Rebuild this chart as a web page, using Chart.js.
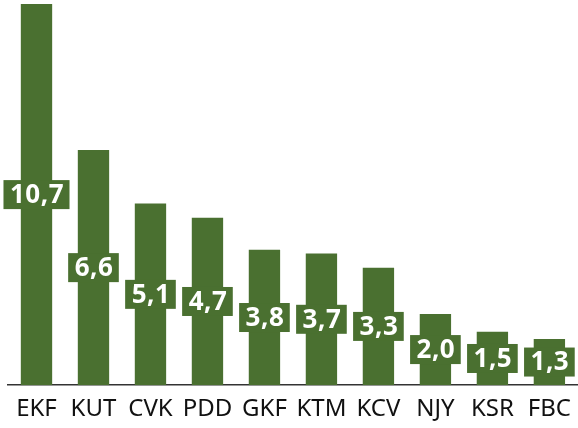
<!DOCTYPE html>
<html lang="en">
<head>
<meta charset="UTF-8">
<title>Bar chart</title>
<script src="https://cdn.jsdelivr.net/npm/chart.js"></script>
<style>
    html, body {
        margin: 0;
        padding: 0;
        background: #ffffff;
        overflow: hidden;
    }
    .wrap {
        width: 578px;
        height: 428px;
        overflow: hidden;
    }
</style>
</head>
<body>
<div class="wrap"><canvas id="chart" width="581" height="438"></canvas></div>
<script>
    // data
    const categories = ['EKF', 'KUT', 'CVK', 'PDD', 'GKF', 'KTM', 'KCV', 'NJY', 'KSR', 'FBC'];
    const values = [10.7, 6.6, 5.1, 4.7, 3.8, 3.7, 3.3, 2.0, 1.5, 1.3];

    const barColor = '#4a7030';

    // labels in a green box, centred on each bar
    const boxLabels = {
        id: 'boxLabels',
        afterDatasetsDraw(chart) {
            const ctx = chart.ctx;
            const meta = chart.getDatasetMeta(0);
            ctx.save();
            ctx.font = 'bold 26px "Noto Sans"';
            ctx.letterSpacing = '0.5px';
            ctx.textAlign = 'center';
            ctx.textBaseline = 'middle';
            meta.data.forEach((bar, i) => {
                const text = values[i].toFixed(1).replace('.', ',');
                const w = ctx.measureText(text).width + 12;
                const h = 29;
                const cy = (bar.y + bar.base) / 2;
                ctx.fillStyle = barColor;
                ctx.fillRect(bar.x - w / 2, cy - h / 2, w, h);
                ctx.fillStyle = '#ffffff';
                ctx.fillText(text, bar.x + 0.5, cy + 1);
            });
            ctx.restore();
        }
    };

    new Chart(document.getElementById('chart'), {
        type: 'bar',
        data: {
            labels: categories,
            datasets: [{
                data: values,
                backgroundColor: barColor,
                borderWidth: 0,
                categoryPercentage: 1,
                barPercentage: 0.55
            }]
        },
        options: {
            responsive: false,
            animation: false,
            layout: { padding: { top: 4, left: 8, right: 0, bottom: 4 } },
            plugins: {
                legend: { display: false },
                tooltip: { enabled: false }
            },
            scales: {
                x: {
                    grid: { display: false, drawTicks: false },
                    border: { display: true, color: '#333333', width: 1.5 },
                    ticks: {
                        color: '#111111',
                        padding: 10,
                        font: { family: '"Noto Sans"', size: 24 }
                    }
                },
                y: {
                    display: false,
                    min: 0,
                    max: 10.7
                }
            }
        },
        plugins: [boxLabels]
    });
</script>
</body>
</html>
